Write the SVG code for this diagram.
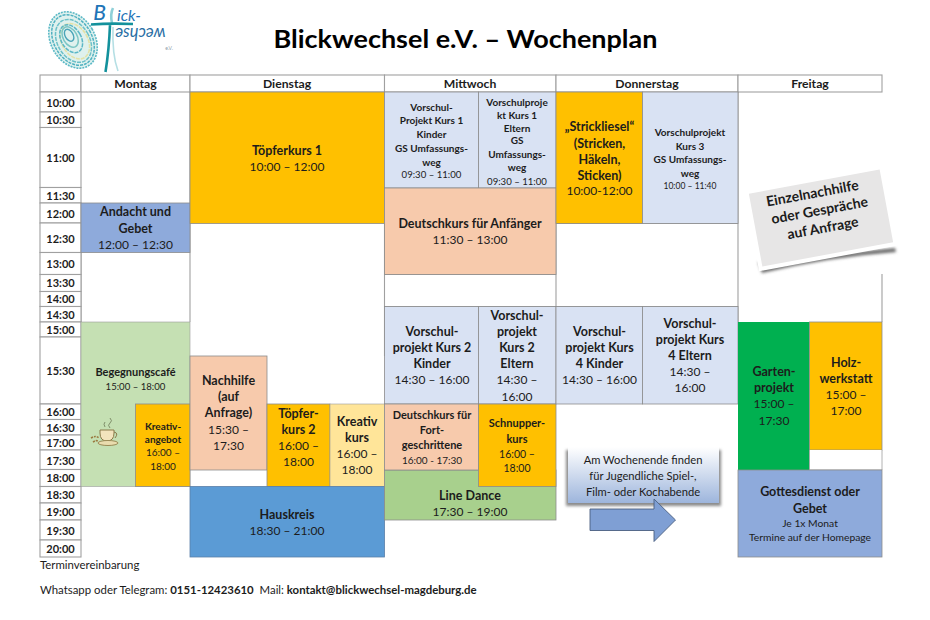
<svg xmlns="http://www.w3.org/2000/svg" width="930" height="620" viewBox="0 0 930 620">
<style>
text{font-family:Lato,"Liberation Sans",sans-serif;fill:#1c1c1c;text-anchor:middle}
.b{font-weight:700;font-size:12.500px}
.r{font-size:12px}
.bs{font-weight:700;font-size:10px}
.bm{font-weight:700;font-size:11px}
.rs{font-size:9.600px}
.w{font-size:11.200px}
.n{font-weight:700;font-size:14px}
.t{font-weight:700;font-size:11px}
.h{font-weight:700;font-size:12.200px}
.l{text-anchor:start;font-size:11.400px}
.lb{font-weight:700}
.cell{stroke:#8c8c8c;stroke-width:.8}
.grid{stroke:#a0a0a0;stroke-width:1.1;fill:none}
.time{fill:#fff;stroke:#a0a0a0;stroke-width:1.1}
.y{fill:#ffc000}.pb{fill:#d9e2f3}.pe{fill:#f7caac}.bl{fill:#8eaadb}
</style>
<defs>
<linearGradient id="box" x1="0" y1="0" x2="0" y2="1"><stop offset="0" stop-color="#ffffff"/><stop offset="1" stop-color="#9db5dc"/></linearGradient>
<filter id="soft" x="-20%" y="-20%" width="140%" height="140%"><feGaussianBlur stdDeviation="1.600"/></filter>
</defs>

<g id="logo">
<g transform="rotate(-30 73 40)" fill="none">
<ellipse cx="73" cy="40" rx="22" ry="30" fill="#dff1ee" stroke="#5cb9c6" stroke-width="1.600" stroke-dasharray="2 1"/>
<ellipse cx="73" cy="40" rx="19" ry="27" stroke="#4fb0c0" stroke-width="1.500" stroke-dasharray="3 1"/>
<ellipse cx="73" cy="41" rx="16" ry="23" stroke="#6cc0c8" stroke-width="1.500" stroke-dasharray="4 1"/>
<ellipse cx="74" cy="42" rx="13" ry="19" stroke="#e3e2a8" stroke-width="1.600" stroke-dasharray="4 1"/>
<ellipse cx="72" cy="38" rx="10" ry="15" stroke="#5ab6c6" stroke-width="1.500" stroke-dasharray="4 1"/>
<ellipse cx="72" cy="36" rx="7" ry="11" stroke="#7cc6c4" stroke-width="1.500"/>
<ellipse cx="72" cy="34" rx="4" ry="6.500" stroke="#4aa4b8" stroke-width="1.400"/>
</g>
<path d="M113 8 Q110 14 112 23" stroke="#8fd0d8" stroke-width="2.600" fill="none"/>
<path d="M113 27 Q112 55 118 71" stroke="#b5dfe4" stroke-width="1.600" fill="none"/>
<path d="M91 24.500 Q110 23 133 24 M110 25 Q109 50 105.500 72" stroke="#13919c" stroke-width="2.600" fill="none"/>
<text x="99.500" y="20" style="font-size:21px;font-style:italic;fill:#1f75b8;font-weight:500">B</text>
<text x="117" y="21" style="text-anchor:start;font-size:16px;font-style:italic;fill:#1f75b8">ick-</text>
<text transform="rotate(180 115 28)" x="115" y="28" style="text-anchor:end;font-size:16.500px;font-style:italic;fill:#2a6fa5">wechse</text>
<text x="169" y="50" style="font-size:5px;fill:#8a9aa8">e.V.</text>
</g>

<text id="title" x="465.500" y="48" textLength="384" lengthAdjust="spacingAndGlyphs" style="font-weight:700;font-size:25px;fill:#000">Blickwechsel e.V. – Wochenplan</text>

<g id="grid-lines" class="grid">
<path d="M190 92V322M384.500 223V356M556 188V306M738 92V322M882 274V322M81 252.500V322M384.500 274.500H556M384.500 306.500H738M556 223.500H738"/>
</g>

<g id="header">
<rect class="time" x="40" y="75" width="41" height="17"/>
<rect class="time" x="81" y="75" width="109" height="17"/><text class="h" x="135.500" y="88">Montag</text>
<rect class="time" x="190" y="75" width="194.500" height="17"/><text class="h" x="287" y="88">Dienstag</text>
<rect class="time" x="384.500" y="75" width="171.500" height="17"/><text class="h" x="470" y="88">Mittwoch</text>
<rect class="time" x="556" y="75" width="182" height="17"/><text class="h" x="647" y="88">Donnerstag</text>
<rect class="time" x="738" y="75" width="144" height="17"/><text class="h" x="810" y="88">Freitag</text>
</g>

<g id="times">
<rect class="time" x="40" y="92" width="41" height="20"/><text class="t" x="60.500" y="106.500">10:00</text>
<rect class="time" x="40" y="112" width="41" height="15.500"/><text class="t" x="60.500" y="124">10:30</text>
<rect class="time" x="40" y="127.500" width="41" height="60"/><text class="t" x="60.500" y="161.500">11:00</text>
<rect class="time" x="40" y="187.500" width="41" height="15.500"/><text class="t" x="60.500" y="200">11:30</text>
<rect class="time" x="40" y="203" width="41" height="20"/><text class="t" x="60.500" y="218">12:00</text>
<rect class="time" x="40" y="223" width="41" height="29.500"/><text class="t" x="60.500" y="242.500">12:30</text>
<rect class="time" x="40" y="252.500" width="41" height="22"/><text class="t" x="60.500" y="268">13:00</text>
<rect class="time" x="40" y="274.500" width="41" height="17"/><text class="t" x="60.500" y="287">13:30</text>
<rect class="time" x="40" y="291.500" width="41" height="15"/><text class="t" x="60.500" y="303">14:00</text>
<rect class="time" x="40" y="306.500" width="41" height="15.500"/><text class="t" x="60.500" y="318.500">14:30</text>
<rect class="time" x="40" y="322" width="41" height="15"/><text class="t" x="60.500" y="334">15:00</text>
<rect class="time" x="40" y="337" width="41" height="67"/><text class="t" x="60.500" y="375">15:30</text>
<rect class="time" x="40" y="404" width="41" height="15.500"/><text class="t" x="60.500" y="416">16:00</text>
<rect class="time" x="40" y="419.500" width="41" height="15.500"/><text class="t" x="60.500" y="432">16:30</text>
<rect class="time" x="40" y="435" width="41" height="15"/><text class="t" x="60.500" y="447">17:00</text>
<rect class="time" x="40" y="450" width="41" height="19.500"/><text class="t" x="60.500" y="464.500">17:30</text>
<rect class="time" x="40" y="469.500" width="41" height="17"/><text class="t" x="60.500" y="482">18:00</text>
<rect class="time" x="40" y="486.500" width="41" height="16.500"/><text class="t" x="60.500" y="499">18:30</text>
<rect class="time" x="40" y="503" width="41" height="17"/><text class="t" x="60.500" y="516">19:00</text>
<rect class="time" x="40" y="520" width="41" height="20"/><text class="t" x="60.500" y="534.500">19:30</text>
<rect class="time" x="40" y="540" width="41" height="17"/><text class="t" x="60.500" y="553">20:00</text>
</g>

<g id="andacht"><rect class="cell bl" x="81" y="203" width="109" height="49.500"/>
<text class="b" x="135.500" y="216">Andacht und</text><text class="b" x="135.500" y="232.500">Gebet</text><text class="r" x="135.500" y="249">12:00 – 12:30</text></g>

<g id="begegnung"><rect x="81" y="322" width="109" height="164.500" fill="#c5e0b3" stroke="#9c9c9c" stroke-width=".6"/>
<text class="bm" x="135.500" y="375.500">Begegnungscafé</text><text class="rs" x="135.500" y="389.500">15:00 – 18:00</text></g>

<g id="kaffee" fill="none" stroke="#7f8f6a" stroke-width="1">
<path d="M100 430h14v3q0 8-7 8t-7-8z" fill="#f3e4bd" stroke="#8a7a4a"/>
<path d="M114 432q5 1 1 6" stroke="#8a7a4a"/>
<ellipse cx="108" cy="443" rx="10" ry="2.500" fill="#e9dcae" stroke="#9a8a55"/>
<path d="M110 428q-3-3 0-5t0-5M105 427q-2-3 0-5"/>
<path d="M91 438q5-3 8 0M93 442q3-2 5-1" stroke="#9a7a40" stroke-width="1.600" stroke-dasharray="2 1"/>
</g>

<g id="kreativangebot"><rect class="cell y" x="135.500" y="404" width="54.500" height="82.500"/>
<text class="bs" x="163" y="430">Kreativ-</text><text class="bs" x="163" y="443">angebot</text><text class="r" style="font-size:10px" x="163" y="456">16:00 –</text><text class="r" style="font-size:10px" x="163" y="470">18:00</text></g>

<g id="toepfer1"><rect class="cell y" x="190" y="92" width="194.500" height="131.500"/>
<text class="b" x="287" y="154.500">Töpferkurs 1</text><text class="r" x="287" y="171">10:00 – 12:00</text></g>

<g id="nachhilfe"><rect class="cell pe" x="190" y="356" width="77" height="114"/>
<text class="b" x="228.500" y="385">Nachhilfe</text><text class="b" x="228.500" y="401">(auf</text><text class="b" x="228.500" y="417">Anfrage)</text><text class="r" x="228.500" y="434">15:30 –</text><text class="r" x="228.500" y="450">17:30</text></g>

<g id="toepfer2"><rect class="cell y" x="267" y="404" width="63" height="82.500"/>
<text class="b" x="298.500" y="417.500">Töpfer-</text><text class="b" x="298.500" y="433.500">kurs 2</text><text class="r" x="298.500" y="450">16:00 –</text><text class="r" x="298.500" y="466">18:00</text></g>

<g id="kreativkurs"><rect x="330" y="404" width="54.500" height="82.500" fill="#ffe599" stroke="#9c9c9c" stroke-width=".6"/>
<text class="b" x="357" y="426">Kreativ</text><text class="b" x="357" y="442">kurs</text><text class="r" x="357" y="458">16:00 –</text><text class="r" x="357" y="474">18:00</text></g>

<g id="hauskreis"><rect x="190" y="486.500" width="194.500" height="70.500" fill="#5b9bd5" stroke="#5a7fa8" stroke-width=".8"/>
<text class="b" x="287" y="518.500">Hauskreis</text><text class="r" x="287" y="535">18:30 – 21:00</text></g>

<g id="kurs1kinder"><rect class="cell pb" x="384.500" y="92" width="94" height="96"/>
<text class="bs" x="431.500" y="110.500">Vorschul-</text><text class="bs" x="431.500" y="124">Projekt Kurs 1</text><text class="bs" x="431.500" y="138">Kinder</text><text class="bs" x="431.500" y="151.500">GS Umfassungs-</text><text class="bs" x="431.500" y="166">weg</text><text class="rs" x="431.500" y="178">09:30 – 11:00</text></g>

<g id="kurs1eltern"><rect class="cell pb" x="478.500" y="92" width="77.500" height="96"/>
<text class="bs" x="517" y="105.500">Vorschulproje</text><text class="bs" x="517" y="118.500">kt Kurs 1</text><text class="bs" x="517" y="131.500">Eltern</text><text class="bs" x="517" y="144">GS</text><text class="bs" x="517" y="158">Umfassungs-</text><text class="bs" x="517" y="171">weg</text><text class="rs" x="517" y="184.500">09:30 – 11:00</text></g>

<g id="anfaenger"><rect class="cell pe" x="384.500" y="188" width="171.500" height="86.500"/>
<text class="b" x="470" y="227.500">Deutschkurs für Anfänger</text><text class="r" x="470" y="243.500">11:30 – 13:00</text></g>

<g id="linedance"><rect class="cell" fill="#a8d08d" x="384.500" y="470" width="171.500" height="50"/>
<text class="b" x="470" y="499.500">Line Dance</text><text class="r" x="470" y="515.500">17:30 – 19:00</text></g>

<g id="kurs2kinder"><rect class="cell pb" x="384.500" y="306.500" width="94" height="97.500"/>
<text class="b" x="432" y="335.500">Vorschul-</text><text class="b" x="432" y="351.500">projekt Kurs 2</text><text class="b" x="432" y="368">Kinder</text><text class="r" x="432" y="384">14:30 – 16:00</text></g>

<g id="kurs2eltern"><rect class="cell pb" x="478.500" y="306.500" width="77.500" height="97.500"/>
<text class="b" x="517" y="319.500">Vorschul-</text><text class="b" x="517" y="335.500">projekt</text><text class="b" x="517" y="351.500">Kurs 2</text><text class="b" x="517" y="368">Eltern</text><text class="r" x="517" y="384">14:30 –</text><text class="r" x="517" y="400.500">16:00</text></g>

<g id="fortgeschrittene"><rect class="cell pe" x="384.500" y="404" width="94" height="66"/>
<text class="bm" x="432" y="419">Deutschkurs für</text><text class="bm" x="432" y="434">Fort-</text><text class="bm" x="432" y="449">geschrittene</text><text class="rs" style="font-size:10px" x="432" y="463.500">16:00 - 17:30</text></g>

<g id="schnupper"><rect class="cell y" x="478.500" y="404" width="77.500" height="82.500"/>
<text class="bm" x="517" y="427">Schnupper-</text><text class="bm" x="517" y="442.500">kurs</text><text class="r" style="font-size:10.500px" x="517" y="458">16:00 –</text><text class="r" style="font-size:10.500px" x="517" y="472">18:00</text></g>

<g id="strickliesel"><rect class="cell y" x="556" y="92" width="86.500" height="131.500"/>
<text class="b" x="599.500" y="131">„Strickliesel“</text><text class="b" x="599.500" y="147.500">(Stricken,</text><text class="b" x="599.500" y="163.500">Häkeln,</text><text class="b" x="599.500" y="179.500">Sticken)</text><text class="r" x="599.500" y="195">10:00-12:00</text></g>

<g id="kurs3"><rect class="cell pb" x="642.500" y="92" width="95.500" height="131.500"/>
<text class="bs" x="690" y="136">Vorschulprojekt</text><text class="bs" x="690" y="149.500">Kurs 3</text><text class="bs" x="690" y="163">GS Umfassungs-</text><text class="bs" x="690" y="176.500">weg</text><text class="rs" style="font-size:8.500px" x="690" y="188.500">10:00 – 11:40</text></g>

<g id="kurs4kinder"><rect class="cell pb" x="556" y="306.500" width="86.500" height="97.500"/>
<text class="b" x="599.500" y="335.500">Vorschul-</text><text class="b" x="599.500" y="351.500">projekt Kurs</text><text class="b" x="599.500" y="368">4 Kinder</text><text class="r" x="599.500" y="384">14:30 – 16:00</text></g>

<g id="kurs4eltern"><rect class="cell pb" x="642.500" y="306.500" width="95.500" height="97.500"/>
<text class="b" x="690" y="327.500">Vorschul-</text><text class="b" x="690" y="344">projekt Kurs</text><text class="b" x="690" y="360">4 Eltern</text><text class="r" x="690" y="375.500">14:30 –</text><text class="r" x="690" y="392">16:00</text></g>

<g id="wochenende">
<rect x="566" y="450" width="155" height="56" fill="#8a8a8a" filter="url(#soft)"/>
<rect x="568" y="447" width="151" height="56" fill="url(#box)"/>
<text class="w" x="643" y="463.500">Am Wochenende finden</text><text class="w" x="643" y="479.500">für Jugendliche Spiel-,</text><text class="w" x="643" y="495.500">Film- oder Kochabende</text>
<polygon points="590,509 654,509 654,499 675.500,520 654,541.500 654,530.500 590,530.500" fill="#7f9fd4" stroke="#4a5f80" stroke-width=".9"/>
</g>

<g id="einzelnachhilfe">
<path d="M758 262 L895 248 L896 252 Q830 257 762 273z" fill="#6a6a6a" filter="url(#soft)"/>
<g transform="rotate(-10.500 821 218)">
<rect x="752.500" y="179" width="137" height="78" fill="#e7e6e6" stroke="#fff" stroke-width="4"/>
<text class="n" x="817" y="197">Einzelnachhilfe</text>
<text class="n" x="821" y="215">oder Gespräche</text>
<text class="n" x="821" y="233">auf Anfrage</text>
</g>
</g>

<g id="garten"><rect x="738" y="322" width="71.500" height="148" fill="#00b050"/>
<text class="b" x="774" y="376">Garten-</text><text class="b" x="774" y="392">projekt</text><text class="r" x="774" y="408">15:00 –</text><text class="r" x="774" y="424.500">17:30</text></g>

<g id="holz"><rect class="cell y" x="809.500" y="322" width="72.500" height="128"/>
<text class="b" x="846" y="367">Holz-</text><text class="b" x="846" y="383">werkstatt</text><text class="r" x="846" y="399">15:00 –</text><text class="r" x="846" y="415">17:00</text>
<path d="M809.500 450V470H882V450" fill="#fff" stroke="#a0a0a0" stroke-width=".8"/></g>

<g id="gottesdienst"><rect class="cell bl" x="738" y="470" width="144" height="87"/>
<text class="b" x="810" y="496">Gottesdienst oder</text><text class="b" x="810" y="512.500">Gebet</text><text class="rs" style="font-size:10.300px" x="810" y="527">Je 1x Monat</text><text class="rs" style="font-size:10.300px" x="810" y="540.500">Termine auf der Homepage</text></g>

<g id="footer">
<text class="l" x="40" y="569">Terminvereinbarung</text>
<text class="l" x="40" y="594" xml:space="preserve">Whatsapp oder Telegram: <tspan class="lb">0151-12423610</tspan>  Mail: <tspan class="lb">kontakt@blickwechsel-magdeburg.de</tspan></text>
</g>
</svg>
